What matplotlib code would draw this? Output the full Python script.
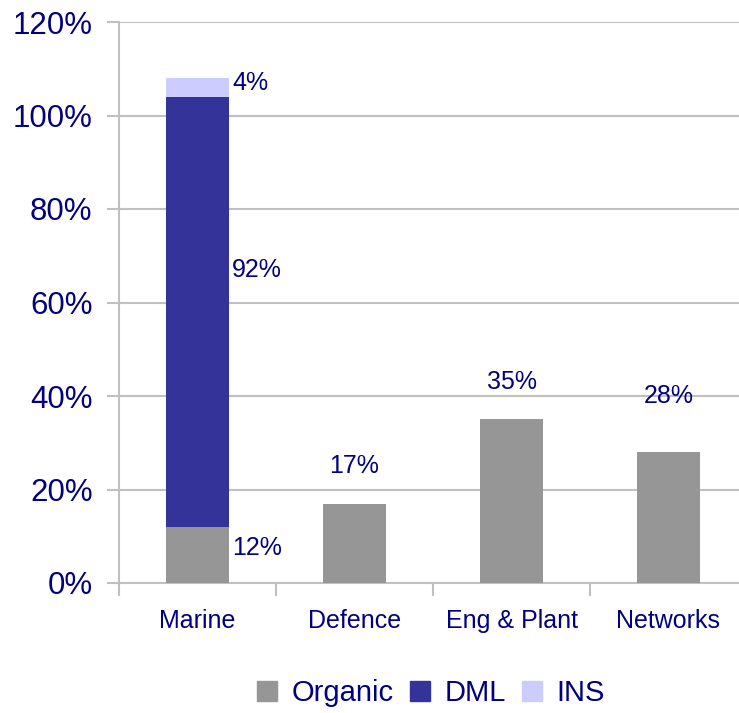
import matplotlib
matplotlib.use('Agg')
import matplotlib.pyplot as plt
from matplotlib.patches import Patch
from numpy import arange

plt.rcParams['font.family'] = ['Liberation Sans', 'DejaVu Sans']

NAVY = '#000080'
GRID = '#c0c0c0'

categories = ['Marine', 'Defence', 'Eng & Plant', 'Networks']
organic = [12, 17, 35, 28]
dml = [92, 0, 0, 0]
ins = [4, 0, 0, 0]
series_names = ['Organic', 'DML', 'INS']
series_colors = ['#969696', '#333399', '#ccccff']

fig = plt.figure(figsize=(7.39, 7.13), dpi=100)
ax = fig.add_axes([119 / 739, 130 / 713, 628 / 739, 561 / 713])

pos = arange(len(categories))
width = 0.40
ax.bar(pos, organic, width, color=series_colors[0], zorder=3)
ax.bar(pos, dml, width, bottom=organic, color=series_colors[1], zorder=3)
tops = [o + d for o, d in zip(organic, dml)]
ax.bar(pos, ins, width, bottom=tops, color=series_colors[2], zorder=3)

# value labels: stacked Marine segments to the right, single bars above
label_kw = dict(color=NAVY, fontsize=18, va='center')
right = pos[0] + width / 2 + 0.02
ax.text(right, organic[0] - 4.5, f'{organic[0]}%', ha='left', **label_kw)
ax.text(right, organic[0] + 55, f'{dml[0]}%', ha='left', **label_kw)
ax.text(right, tops[0] + ins[0] / 2 + 1, f'{ins[0]}%', ha='left', **label_kw)
above = [None, 8, 8, 12]
for i in range(1, len(categories)):
    ax.text(pos[i], organic[i] + above[i], f'{organic[i]}%', ha='center', **label_kw)

ax.set_xlim(-0.5, len(categories) - 0.5)
ax.set_ylim(0, 120)
ax.set_yticks(arange(0, 121, 20))
ax.set_yticklabels([f'{v}%' for v in range(0, 121, 20)], color=NAVY, fontsize=22.5)
ax.yaxis.grid(True, color=GRID, linewidth=1.5, zorder=0)

ax.set_xticks(arange(-0.5, len(categories) + 0.5, 1))
ax.set_xticklabels([])
ax.set_xticks(pos, minor=True)
ax.set_xticklabels(categories, minor=True, color=NAVY, fontsize=18)
ax.tick_params(axis='x', which='minor', length=0, pad=19)
ax.tick_params(axis='x', which='major', length=9, width=1.5, color=GRID)
ax.tick_params(axis='y', length=9, width=1.5, color=GRID, pad=10)

for side in ['top', 'right']:
    ax.spines[side].set_visible(False)
for side in ['left', 'bottom']:
    ax.spines[side].set_color(GRID)
    ax.spines[side].set_linewidth(1.5)

handles = [Patch(color=c, label=n) for c, n in zip(series_colors, series_names)]
leg = fig.legend(handles=handles, loc='center', bbox_to_anchor=(0.583, 0.028), ncol=3,
                 frameon=False, fontsize=21, handlelength=0.69, handleheight=0.69,
                 handletextpad=0.5, columnspacing=0.55)
for t in leg.get_texts():
    t.set_color(NAVY)

fig.savefig('out.png', dpi=100)
